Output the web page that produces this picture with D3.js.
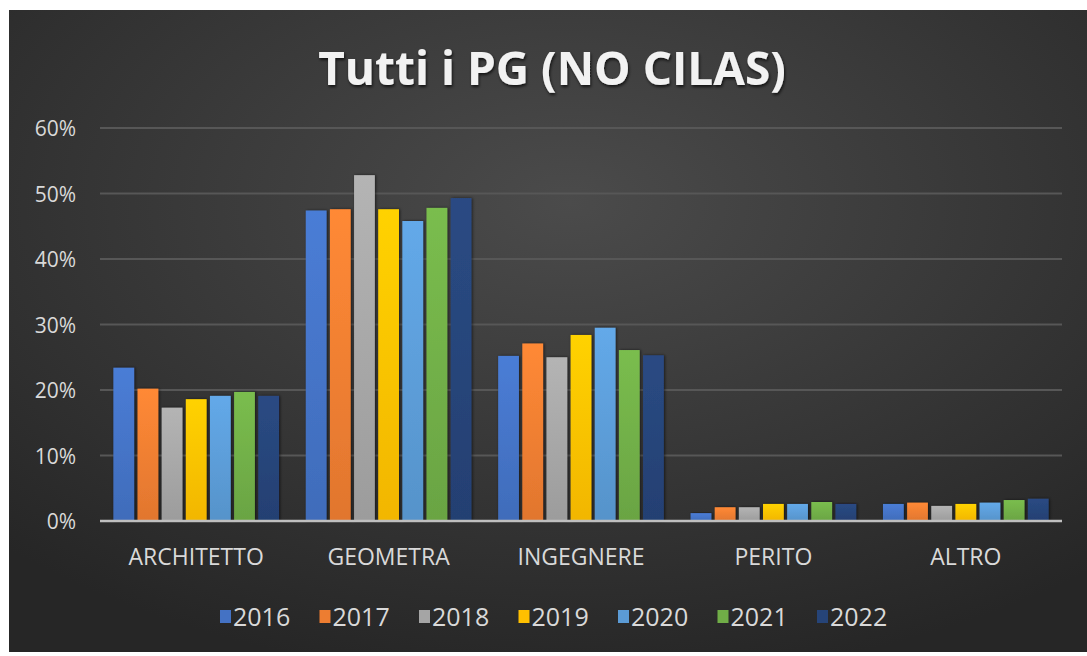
<!DOCTYPE html>
<html>
<head>
<meta charset="utf-8">
<script src="https://cdn.jsdelivr.net/npm/d3@7"></script>
<style>
  body { margin: 0; background: #fff; }
  svg { display: block; }
  text { font-family: "Open Sans", "DejaVu Sans", sans-serif; }
</style>
</head>
<body>
<svg id="chart" width="1087" height="656"></svg>
<script>
// data
var categories = ['ARCHITETTO', 'GEOMETRA', 'INGEGNERE', 'PERITO', 'ALTRO'];
var years = ['2016', '2017', '2018', '2019', '2020', '2021', '2022'];
var v2016 = [0.234, 0.474, 0.252, 0.012, 0.026];
var v2017 = [0.202, 0.476, 0.271, 0.021, 0.028];
var v2018 = [0.173, 0.528, 0.250, 0.021, 0.023];
var v2019 = [0.186, 0.476, 0.284, 0.026, 0.026];
var v2020 = [0.191, 0.458, 0.295, 0.026, 0.028];
var v2021 = [0.197, 0.478, 0.261, 0.029, 0.032];
var v2022 = [0.191, 0.493, 0.253, 0.026, 0.034];
var yTicks = [0, 0.1, 0.2, 0.3, 0.4, 0.5, 0.6];
var colors = ['#4472c4', '#ed7d31', '#a5a5a5', '#ffc000', '#5b9bd5', '#70ad47', '#264478'];

var series = [v2016, v2017, v2018, v2019, v2020, v2021, v2022];

var svg = d3.select('#chart');
var defs = svg.append('defs');

// background gradient like the office dark style
var bg = defs.append('radialGradient')
    .attr('id', 'bg')
    .attr('cx', '52%').attr('cy', '30%').attr('r', '75%');
bg.append('stop').attr('offset', '0%').attr('stop-color', '#4b4b4b');
bg.append('stop').attr('offset', '100%').attr('stop-color', '#262626');

var shadow = defs.append('filter').attr('id', 'shadow')
    .attr('x', '-30%').attr('y', '-10%').attr('width', '160%').attr('height', '120%');
shadow.append('feDropShadow').attr('dx', 1).attr('dy', 0).attr('stdDeviation', 1.5)
    .attr('flood-color', '#000').attr('flood-opacity', 0.6);

var titleShadow = defs.append('filter').attr('id', 'tshadow');
titleShadow.append('feDropShadow').attr('dx', 1).attr('dy', 2).attr('stdDeviation', 1.5)
    .attr('flood-color', '#000').attr('flood-opacity', 0.7);

colors.forEach(function(c, i) {
    var g = defs.append('linearGradient').attr('id', 'bar' + i)
        .attr('x1', 0).attr('y1', 0).attr('x2', 0).attr('y2', 1);
    g.append('stop').attr('offset', '0%').attr('stop-color', d3.color(c).brighter(0.25));
    g.append('stop').attr('offset', '100%').attr('stop-color', d3.color(c).darker(0.15));
});

svg.append('rect')
    .attr('x', 9).attr('y', 10)
    .attr('width', 1078).attr('height', 642)
    .attr('fill', 'url(#bg)');

var x0 = d3.scaleBand()
    .domain(categories)
    .range([100, 1062]);

var x1 = d3.scaleBand()
    .domain(years)
    .range([10, x0.bandwidth() - 10])
    .padding(0.14);

var y = d3.scaleLinear()
    .domain([0, 0.6])
    .range([521, 128]);

// gridlines
svg.append('g')
    .selectAll('line')
    .data(yTicks.slice(1))
    .enter().append('line')
    .attr('x1', 100).attr('x2', 1062)
    .attr('y1', function(d) { return y(d); })
    .attr('y2', function(d) { return y(d); })
    .attr('stroke', '#575757')
    .attr('stroke-width', 2);

// y labels
svg.append('g')
    .selectAll('text')
    .data(yTicks)
    .enter().append('text')
    .attr('x', 76)
    .attr('y', function(d) { return y(d) + 1; })
    .attr('dy', '0.35em')
    .attr('text-anchor', 'end')
    .attr('fill', '#d9d9d9')
    .attr('font-size', 21)
    .text(d3.format('.0%'));

// bars
var groups = svg.append('g')
    .selectAll('g')
    .data(categories)
    .enter().append('g')
    .attr('transform', function(d) { return 'translate(' + x0(d) + ',0)'; });

groups.selectAll('rect')
    .data(function(d, ci) {
        return years.map(function(yr, si) { return {year: yr, i: si, value: series[si][ci]}; });
    })
    .enter().append('rect')
    .attr('x', function(d) { return x1(d.year); })
    .attr('width', x1.bandwidth())
    .attr('y', function(d) { return y(d.value); })
    .attr('height', function(d) { return y(0) - y(d.value); })
    .attr('fill', function(d) { return 'url(#bar' + d.i + ')'; })
    .attr('filter', 'url(#shadow)');

// x axis line
svg.append('line')
    .attr('x1', 100).attr('x2', 1062)
    .attr('y1', y(0)).attr('y2', y(0))
    .attr('stroke', '#bfbfbf')
    .attr('stroke-width', 2.5);

// category labels
svg.append('g')
    .selectAll('text')
    .data(categories)
    .enter().append('text')
    .attr('x', function(d) { return x0(d) + x0.bandwidth() / 2; })
    .attr('y', 565)
    .attr('text-anchor', 'middle')
    .attr('fill', '#d9d9d9')
    .attr('font-size', 23)
    .text(function(d) { return d; });

// title
svg.append('text')
    .attr('x', 552)
    .attr('y', 85)
    .attr('text-anchor', 'middle')
    .attr('fill', '#f2f2f2')
    .attr('font-size', 46)
    .attr('font-weight', 'bold')
    .attr('filter', 'url(#tshadow)')
    .text('Tutti i PG (NO CILAS)');

// legend
var legend = svg.append('g')
    .selectAll('g')
    .data(years)
    .enter().append('g')
    .attr('transform', function(d, i) { return 'translate(' + (220 + i * 99.5) + ',617)'; });

legend.append('rect')
    .attr('x', 0).attr('y', -7)
    .attr('width', 11).attr('height', 13)
    .attr('fill', function(d, i) { return colors[i]; });

legend.append('text')
    .attr('x', 13)
    .attr('dy', '0.35em')
    .attr('fill', '#d9d9d9')
    .attr('font-size', 25)
    .text(function(d) { return d; });
</script>
</body>
</html>
